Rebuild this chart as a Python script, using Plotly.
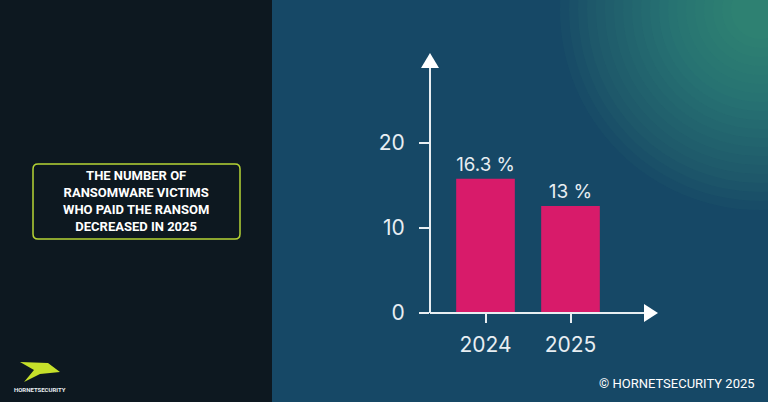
import plotly.graph_objects as go

# bar heights as drawn in the picture, with their printed labels
years = ["2024", "2025"]
bar_heights = [15.8, 12.6]
bar_labels = ["16.3 %", "13 %"]
y_ticks = [0, 10, 20]

W, H = 768, 402
x0_px, x1_px = 430, 650
y0_px, y1_px = 313, 60

fig = go.Figure()
fig.add_trace(go.Bar(
    x=[0, 1], y=bar_heights, width=0.69,
    marker=dict(color="#d81b6a", line=dict(width=0)),
    text=bar_labels, textposition="outside",
    textfont=dict(color="#e8eef2", size=19, family="Inter"),
    cliponaxis=False,
))

px_per_cat = 85
fig.update_xaxes(
    domain=[x0_px / W, x1_px / W], automargin=False,
    range=[-(485.5 - x0_px) / px_per_cat, (x1_px - 485.5) / px_per_cat],
    tickvals=[0, 1], ticktext=years, ticks="outside", ticklen=9, tickwidth=2,
    tickcolor="#e8eef2", showgrid=False, zeroline=False, ticklabelstandoff=4,
    showline=False, tickfont=dict(color="#e8eef2", size=21, family="Inter"),
)
fig.update_yaxes(
    domain=[(H - y0_px) / H, (H - y1_px) / H], automargin=False,
    range=[0, (y0_px - y1_px) / 8.5],
    tickvals=y_ticks, ticks="outside", ticklen=10, tickwidth=2, ticklabelstandoff=10,
    tickcolor="#e8eef2", showgrid=False, zeroline=False, showline=False,
    tickfont=dict(color="#e8eef2", size=21, family="Inter"),
)

shapes = [
    # left dark panel
    dict(type="rect", xref="paper", yref="paper", x0=0, x1=272 / W, y0=0, y1=1,
         fillcolor="#0d1820", line_width=0, layer="below"),
]
# soft teal glow in the top right corner
for i in range(20):
    r = 200 - i * 9
    shapes.append(dict(type="circle", xref="paper", yref="paper",
                       x0=(760 - r) / W, x1=(760 + r) / W,
                       y0=(H - 10 - r) / H, y1=(H - 10 + r) / H,
                       fillcolor="rgba(80,200,150,0.035)", line_width=0, layer="below"))
def p(x, y):
    return f"{x / W},{(H - y) / H}"
# axis lines with arrow heads
shapes += [
    dict(type="line", xref="paper", yref="paper", x0=x0_px / W, x1=648 / W,
         y0=(H - y0_px) / H, y1=(H - y0_px) / H, line=dict(color="#e8eef2", width=2)),
    dict(type="line", xref="paper", yref="paper", x0=x0_px / W, x1=x0_px / W,
         y0=(H - y0_px) / H, y1=(H - 66) / H, line=dict(color="#e8eef2", width=2)),
    dict(type="path", xref="paper", yref="paper", fillcolor="#ffffff", line_width=0,
         path=f"M{p(421, 68)} L{p(430, 53)} L{p(439, 68)} Z"),
    dict(type="path", xref="paper", yref="paper", fillcolor="#ffffff", line_width=0,
         path=f"M{p(644, 304)} L{p(658, 313)} L{p(644, 322)} Z"),
]
# rounded box on the left
bx0, bx1, by0, by1, rr = 33, 240, 164, 239, 5
shapes.append(dict(
    type="path", xref="paper", yref="paper", line=dict(color="#b5d334", width=1.5),
    path=(f"M{p(bx0 + rr, by0)} L{p(bx1 - rr, by0)} Q{p(bx1, by0)} {p(bx1, by0 + rr)} "
          f"L{p(bx1, by1 - rr)} Q{p(bx1, by1)} {p(bx1 - rr, by1)} "
          f"L{p(bx0 + rr, by1)} Q{p(bx0, by1)} {p(bx0, by1 - rr)} "
          f"L{p(bx0, by0 + rr)} Q{p(bx0, by0)} {p(bx0 + rr, by0)} Z"),
))
# simple logo mark
shapes.append(dict(type="path", xref="paper", yref="paper", fillcolor="#c6e02a", line_width=0,
                   path=f"M{p(20, 362)} L{p(48, 363)} L{p(60, 372)} L{p(40, 374)} L{p(24, 382)} L{p(34, 370)} Z"))

fig.update_layout(
    width=W, height=H, autosize=False, margin=dict(l=0, r=0, t=0, b=0, pad=0),
    paper_bgcolor="#164866", plot_bgcolor="rgba(0,0,0,0)",
    showlegend=False, shapes=shapes,
    annotations=[
        dict(xref="paper", yref="paper", x=136 / W, y=(H - 201) / H, showarrow=False,
             xanchor="center", yanchor="middle",
             text="<b>THE NUMBER OF<br>RANSOMWARE VICTIMS<br>WHO PAID THE RANSOM<br>DECREASED IN 2025</b>",
             font=dict(color="#ffffff", size=13, family="Roboto"), align="center"),
        dict(xref="paper", yref="paper", x=12 / W, y=(H - 389) / H, showarrow=False,
             xanchor="left", yanchor="middle", text="<b>HORNETSECURITY</b>",
             font=dict(color="#e8eef2", size=6, family="Roboto")),
        dict(xref="paper", yref="paper", x=757 / W, y=(H - 383) / H, showarrow=False,
             xanchor="right", yanchor="middle", text="© HORNETSECURITY 2025",
             font=dict(color="#ffffff", size=13, family="Roboto")),
    ],
)

fig.write_html("out.html", config=dict(displayModeBar=False, responsive=False),
               post_script="document.body.style.margin='0';document.body.style.overflow='hidden';")
